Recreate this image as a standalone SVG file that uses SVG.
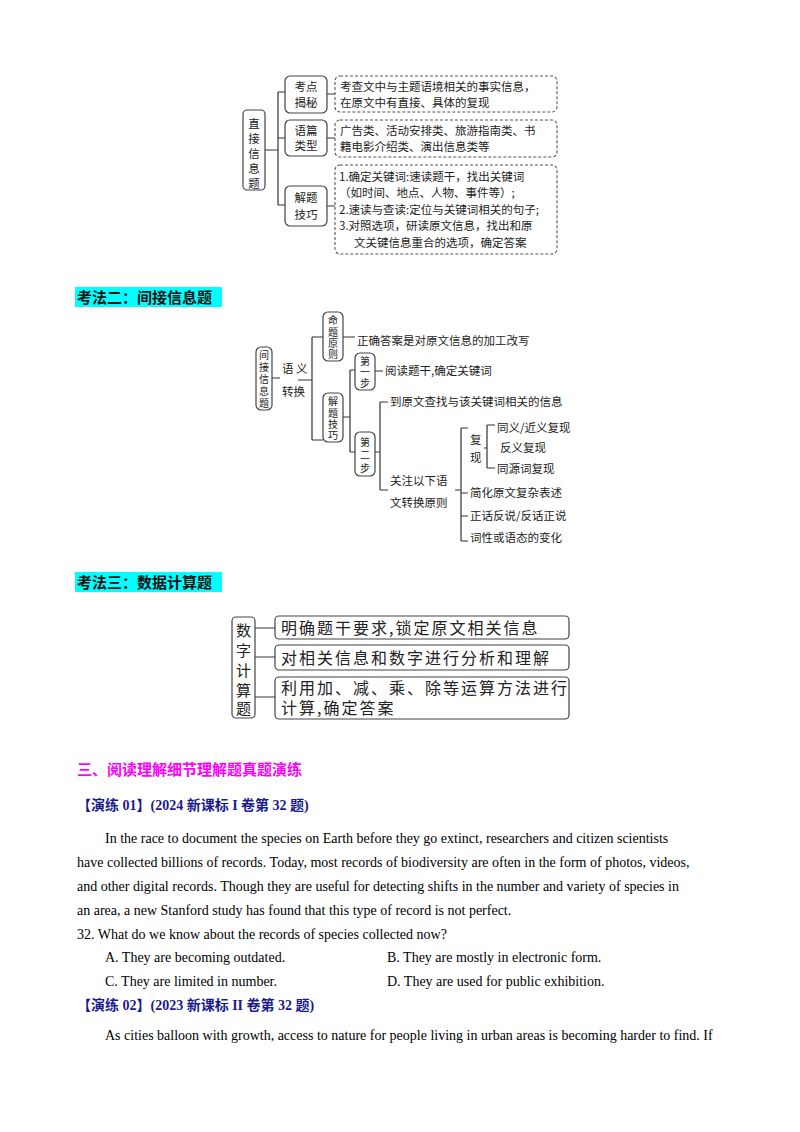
<svg xmlns="http://www.w3.org/2000/svg" width="800" height="1132" viewBox="0 0 800 1132">
<style>
.cn{font-family:"Noto Sans CJK SC","Liberation Serif",serif;fill:#222}
.s12{font-size:11.5px}
.s10{font-size:10px}
.box{fill:#fff;stroke:#444;stroke-width:1.2}
.dash{fill:#fff;stroke:#555;stroke-width:1.1;stroke-dasharray:3 2}
.ln{fill:none;stroke:#333;stroke-width:1.2}
.h{font-family:"Noto Sans CJK SC",sans-serif;font-weight:bold;font-size:15px}
.body{font-family:"Liberation Serif","Noto Sans CJK SC",serif;font-size:14px;fill:#000}
.lab{font-family:"Liberation Serif","Noto Sans CJK SC",serif;font-size:14px;font-weight:bold;fill:#1a1a8c}
.big{font-size:16px;letter-spacing:2px}
</style>
<rect width="800" height="1132" fill="#fff"/>
<g id="connectors">
<path class="ln" d="M265 150H278M278 92V205M278 92H285M278 138H285M278 205H285M327 94H335M327 138H335M327 206H335"/>
<path class="ln" d="M272 378H280M298 380H312M312 337V440M312 337H323M312 440H323M343 337H355M343 417H350M350 370V452M350 370H355M350 452H355M375 371H383M375 452H380M380 402V490M380 402H388M380 490H388M455 490H461M461 428V541M461 428H468M461 493H468M461 516H468M461 541H468M484 448H487M487 425V468M487 425H495M487 468H495"/>
<path class="ln" d="M255 628H275M255 657H275M255 697H275"/>
</g>
<g id="n1">
<rect class="box" x="243" y="110" width="22" height="80" rx="4"/>
<text class="cn s12" x="254" y="128" text-anchor="middle">直</text>
<text class="cn s12" x="254" y="143" text-anchor="middle">接</text>
<text class="cn s12" x="254" y="158" text-anchor="middle">信</text>
<text class="cn s12" x="254" y="173" text-anchor="middle">息</text>
<text class="cn s12" x="254" y="188" text-anchor="middle">题</text>
</g>
<g id="n2"><rect class="box" x="285" y="76" width="42" height="37" rx="5"/>
<text class="cn s12" x="306" y="91" text-anchor="middle">考点</text><text class="cn s12" x="306" y="107" text-anchor="middle">揭秘</text></g>
<g id="n3"><rect class="box" x="285" y="120" width="42" height="36" rx="5"/>
<text class="cn s12" x="306" y="135" text-anchor="middle">语篇</text><text class="cn s12" x="306" y="150" text-anchor="middle">类型</text></g>
<g id="n4"><rect class="box" x="285" y="186" width="42" height="40" rx="5"/>
<text class="cn s12" x="306" y="202" text-anchor="middle">解题</text><text class="cn s12" x="306" y="219" text-anchor="middle">技巧</text></g>
<g id="n5"><rect class="dash" x="335" y="76" width="222" height="36" rx="5"/>
<text class="cn s12" x="340" y="91">考查文中与主题语境相关的事实信息，</text><text class="cn s12" x="340" y="107">在原文中有直接、具体的复现</text></g>
<g id="n6"><rect class="dash" x="335" y="120" width="222" height="37" rx="5"/>
<text class="cn s12" x="340" y="135">广告类、活动安排类、旅游指南类、书</text><text class="cn s12" x="340" y="151">籍电影介绍类、演出信息类等</text></g>
<g id="n7"><rect class="dash" x="335" y="165" width="222" height="89" rx="5"/>
<text class="cn s12" x="339" y="181">1.确定关键词:速读题干，找出关键词</text>
<text class="cn s12" x="339" y="197">（如时间、地点、人物、事件等）;</text>
<text class="cn s12" x="339" y="214">2.速读与查读:定位与关键词相关的句子;</text>
<text class="cn s12" x="339" y="230">3.对照选项，研读原文信息，找出和原</text>
<text class="cn s12" x="354" y="247">文关键信息重合的选项，确定答案</text></g>

<rect x="75" y="287" width="147" height="20" fill="#00ffff"/>
<text class="h" x="77" y="303" fill="#111">考法二：间接信息题</text>

<g id="m1"><rect class="box" x="256" y="347" width="16" height="63" rx="5"/>
<text class="cn s10" x="264" y="359" text-anchor="middle">间</text><text class="cn s10" x="264" y="371" text-anchor="middle">接</text><text class="cn s10" x="264" y="383" text-anchor="middle">信</text><text class="cn s10" x="264" y="395" text-anchor="middle">息</text><text class="cn s10" x="264" y="407" text-anchor="middle">题</text></g>
<g id="m2"><text class="cn s12" x="282" y="373">语 义</text><text class="cn s12" x="282" y="396">转换</text></g>
<g id="m3"><rect class="box" x="323" y="312" width="20" height="49" rx="5"/>
<text class="cn s10" x="333" y="324" text-anchor="middle">命</text><text class="cn s10" x="333" y="336" text-anchor="middle">题</text><text class="cn s10" x="333" y="347" text-anchor="middle">原</text><text class="cn s10" x="333" y="358" text-anchor="middle">则</text></g>
<text id="m4" class="cn s12" x="357" y="345">正确答案是对原文信息的加工改写</text>
<g id="m5"><rect class="box" x="323" y="393" width="20" height="49" rx="5"/>
<text class="cn s10" x="333" y="405" text-anchor="middle">解</text><text class="cn s10" x="333" y="417" text-anchor="middle">题</text><text class="cn s10" x="333" y="428" text-anchor="middle">技</text><text class="cn s10" x="333" y="439" text-anchor="middle">巧</text></g>
<g id="m6"><rect class="box" x="355" y="353" width="20" height="37" rx="5"/>
<text class="cn s10" x="365" y="365" text-anchor="middle">第</text><text class="cn s10" x="365" y="376" text-anchor="middle">一</text><text class="cn s10" x="365" y="387" text-anchor="middle">步</text></g>
<g id="m7"><text class="cn s12" x="385" y="375">阅读题干,确定关键词</text></g>
<g id="m8"><rect class="box" x="355" y="432" width="20" height="44" rx="5"/>
<text class="cn s10" x="365" y="446" text-anchor="middle">第</text><text class="cn s10" x="365" y="459" text-anchor="middle">二</text><text class="cn s10" x="365" y="472" text-anchor="middle">步</text></g>
<text id="m9" class="cn s12" x="390" y="406">到原文查找与该关键词相关的信息</text>
<g id="m10"><text class="cn s12" x="390" y="485">关注以下语</text><text class="cn s12" x="390" y="507">文转换原则</text></g>
<g id="m11"><text class="cn s12" x="470" y="444">复</text><text class="cn s12" x="470" y="462">现</text></g>
<text class="cn s12" x="497" y="432">同义/近义复现</text>
<text class="cn s12" x="500" y="452">反义复现</text>
<text class="cn s12" x="497" y="473">同源词复现</text>
<text class="cn s12" x="470" y="497">简化原文复杂表述</text>
<text class="cn s12" x="470" y="520">正话反说/反话正说</text>
<text class="cn s12" x="470" y="542">词性或语态的变化</text>

<rect x="75" y="572" width="147" height="20" fill="#00ffff"/>
<text class="h" x="77" y="588" fill="#111">考法三：数据计算题</text>

<g id="k1"><rect class="box" x="232" y="617" width="23" height="101" rx="4"/>
<text class="cn" font-size="15" x="243.5" y="636" text-anchor="middle">数</text><text class="cn" font-size="15" x="243.5" y="656" text-anchor="middle">字</text><text class="cn" font-size="15" x="243.5" y="676" text-anchor="middle">计</text><text class="cn" font-size="15" x="243.5" y="696" text-anchor="middle">算</text><text class="cn" font-size="15" x="243.5" y="714" text-anchor="middle">题</text></g>
<g id="k2"><rect class="box" x="275" y="616" width="294" height="23" rx="4"/><text class="cn big" x="281" y="634">明确题干要求,锁定原文相关信息</text></g>
<g id="k3"><rect class="box" x="275" y="645" width="294" height="25" rx="4"/><text class="cn big" x="281" y="664">对相关信息和数字进行分析和理解</text></g>
<g id="k4"><rect class="box" x="275" y="677" width="294" height="42" rx="4"/><text class="cn big" x="281" y="694">利用加、减、乘、除等运算方法进行</text><text class="cn big" x="281" y="714">计算,确定答案</text></g>

<text x="77" y="775" font-family="Noto Sans CJK SC,sans-serif" font-weight="bold" font-size="15" fill="#ff00ff">三、阅读理解细节理解题真题演练</text>
<text class="lab" x="77" y="810">【演练 01】(2024 新课标 I 卷第 32 题)</text>
<text class="body" x="105" y="843">In the race to document the species on Earth before they go extinct, researchers and citizen scientists</text>
<text class="body" x="77" y="867">have collected billions of records. Today, most records of biodiversity are often in the form of photos, videos,</text>
<text class="body" x="77" y="891">and other digital records. Though they are useful for detecting shifts in the number and variety of species in</text>
<text class="body" x="77" y="915">an area, a new Stanford study has found that this type of record is not perfect.</text>
<text class="body" x="77" y="939">32. What do we know about the records of species collected now?</text>
<text class="body" x="105" y="962">A. They are becoming outdated.</text>
<text class="body" x="387" y="962">B. They are mostly in electronic form.</text>
<text class="body" x="105" y="986">C. They are limited in number.</text>
<text class="body" x="387" y="986">D. They are used for public exhibition.</text>
<text class="lab" x="77" y="1010">【演练 02】(2023 新课标 II 卷第 32 题)</text>
<text class="body" x="105" y="1040">As cities balloon with growth, access to nature for people living in urban areas is becoming harder to find. If</text>
</svg>
